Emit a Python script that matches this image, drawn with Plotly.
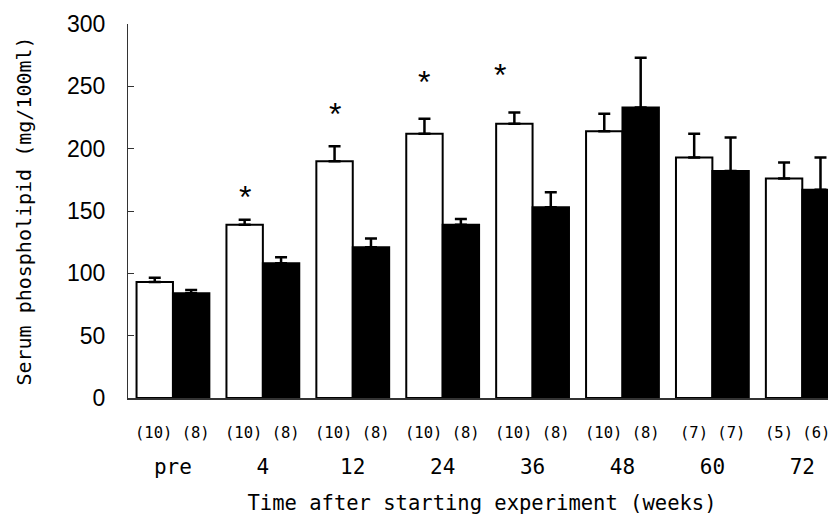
import plotly.graph_objects as go

weeks = ["pre", "4", "12", "24", "36", "48", "60", "72"]
n_labels = ["(10) (8)", "(10) (8)", "(10) (8)", "(10) (8)", "(10) (8)", "(10) (8)", "(7) (7)", "(5) (6)"]
white_vals = [93, 139, 190, 212, 220, 214, 193, 176]
white_err = [3.5, 4, 12, 12, 9, 14, 19, 13]
black_vals = [84, 108, 121, 139, 153, 233, 182, 167]
black_err = [2.7, 5, 7, 4.5, 12, 40, 27, 26]
star_groups = [1, 2, 3, 4]
star_y = [166, 233, 258, 264]
y_ticks = [0, 50, 100, 150, 200, 250, 300]

x = list(range(len(weeks)))
mono = "DejaVu Sans Mono"

fig = go.Figure()
fig.add_trace(go.Bar(
    x=x, y=white_vals,
    marker=dict(color="white", line=dict(color="black", width=2)),
    error_y=dict(type="data", array=white_err, arrayminus=[0]*len(x), symmetric=False,
                 color="black", thickness=2.5, width=6),
    showlegend=False,
))
fig.add_trace(go.Bar(
    x=x, y=black_vals,
    marker=dict(color="black", line=dict(color="black", width=2)),
    error_y=dict(type="data", array=black_err, arrayminus=[0]*len(x), symmetric=False,
                 color="black", thickness=2.5, width=6),
    showlegend=False,
))

annotations = []
for g, yv in zip(star_groups, star_y):
    shift = -14 if g == 4 else 0
    annotations.append(dict(x=g - 0.203, y=yv, xref="x", yref="y", text="*",
                            showarrow=False, xshift=shift, yshift=-6,
                            font=dict(family="Liberation Sans", size=32, color="black"),
                            yanchor="middle"))
for i, t in enumerate(n_labels):
    annotations.append(dict(x=i, y=0, xref="x", yref="paper", text=t, showarrow=False,
                            yshift=-35, yanchor="middle",
                            xshift=-5 if i == len(n_labels) - 1 else 0,
                            font=dict(family=mono, size=15.5, color="black")))

fig.update_layout(
    width=828, height=507,
    margin=dict(l=120, r=0, t=16, b=117, autoexpand=False),
    paper_bgcolor="white", plot_bgcolor="white",
    barmode="group", bargap=0.19, bargroupgap=0,
    annotations=annotations,
    xaxis=dict(
        range=[-0.5, 7.375], tickvals=x, ticktext=weeks, automargin=False,
        tickfont=dict(family=mono, size=21, color="black"),
        ticks="", showgrid=False, zeroline=False,
        showline=True, linecolor="#333", linewidth=1.5,
        ticklabelstandoff=49,
        title=dict(text="Time after starting experiment (weeks)",
                   font=dict(family=mono, size=20.5, color="black"), standoff=18),
    ),
    yaxis=dict(
        range=[0, 300], tickvals=y_ticks, automargin=False,
        tickfont=dict(family="Liberation Sans", size=23, color="black"),
        ticks="inside", ticklen=6, tickcolor="#333", tickwidth=1,
        showgrid=False, zeroline=False,
        showline=True, linecolor="#333", linewidth=1,
        ticklabelstandoff=17,
        title=dict(text="Serum phospholipid (mg/100ml)",
                   font=dict(family=mono, size=20, color="black"), standoff=30),
    ),
)

fig.write_html("out.html")
